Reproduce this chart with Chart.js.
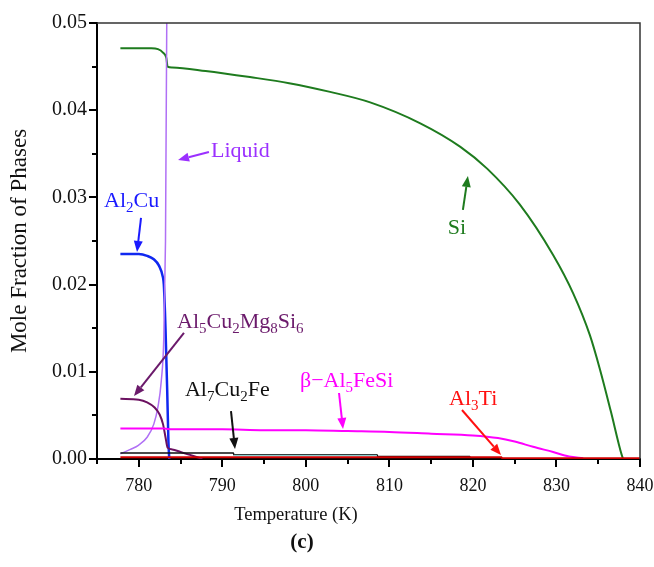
<!DOCTYPE html>
<html>
<head>
<meta charset="utf-8">
<script src="https://cdn.jsdelivr.net/npm/chart.js@4.4.0/dist/chart.umd.min.js"></script>
<style>
  html, body { margin: 0; padding: 0; background: #fff; }
  canvas { display: block; }
</style>
</head>
<body>
<canvas id="chart" width="654" height="567"></canvas>
<script>
// ---- data (temperature in K, mole fraction) ----
const siTemp = [777.8, 781.5, 782.3, 782.9, 783.3, 783.45, 784, 788, 793.3, 798, 802.9, 807.7, 813.7, 818.5, 821.7, 825.6, 829.6, 832, 834, 835.2, 836.5, 837.8, 837.95];
const siFrac = [0.0471, 0.0471, 0.0470, 0.0466, 0.0460, 0.0450, 0.0449, 0.0445, 0.0438, 0.0431, 0.0421, 0.0409, 0.0385, 0.0358, 0.0333, 0.0292, 0.0234, 0.0190, 0.0142, 0.0103, 0.0055, 0.0005, 0.0001];

const liqTemp = [777.8, 779, 780, 781, 781.8, 782.3, 782.7, 783.0, 783.2, 783.35, 783.45, 783.5, 840];
const liqFrac = [0.0006, 0.0011, 0.0016, 0.0025, 0.0040, 0.0060, 0.0090, 0.0140, 0.0250, 0.0500, 0.2, 1.0, 1.0];

const al2cuTemp = [777.8, 780, 781, 781.8, 782.4, 782.9, 783.0, 783.2, 783.4, 783.55, 783.65];
const al2cuFrac = [0.0235, 0.0235, 0.0233, 0.0229, 0.0222, 0.0208, 0.0200, 0.0150, 0.0080, 0.0020, 0];

const mgTemp = [777.8, 780, 781, 781.9, 782.5, 782.9, 783.2, 783.45, 784, 785, 786, 787, 787.6];
const mgFrac = [0.0069, 0.0068, 0.0065, 0.0059, 0.0051, 0.0040, 0.0025, 0.0013, 0.0011, 0.0008, 0.0005, 0.0002, 0];

const feSiTemp = [777.8, 783, 784, 790, 795, 800, 805, 810, 815, 820, 823, 825, 827.2, 829.6, 831.5, 833.2];
const feSiFrac = [0.0035, 0.0035, 0.0034, 0.0034, 0.0033, 0.0033, 0.0032, 0.0031, 0.0029, 0.0027, 0.0024, 0.0020, 0.0014, 0.0008, 0.0003, 0.0001];

const al7Temp = [777.8, 791.3, 791.4, 808.5, 808.6, 819.6, 819.7];
const al7Frac = [0.0007, 0.0007, 0.0005, 0.0005, 0.0003, 0.0003, 0.0001];

const otherTemp = [791.4, 808.5];
const otherFrac = [0.0004, 0.0004];

const al3tiTemp = [777.8, 823.4, 823.5, 840];
const al3tiFrac = [0.0002, 0.0002, 0.0001, 0.0001];

const xTicks = [780, 790, 800, 810, 820, 830, 840];
const yTicks = [0.00, 0.01, 0.02, 0.03, 0.04, 0.05];

// labels on the plot: text, text anchor, arrow tail, arrow head (data coords)
const notes = [
  { text: 'Liquid', color: '#9b30ff', at: [788.65, 0.03544], from: [788.4, 0.03521], to: [784.7, 0.03429] },
  { text: 'Al_2Cu', color: '#1a1aff', at: [775.84, 0.0297], from: [780.27, 0.02764], to: [779.79, 0.02374] },
  { text: 'Si', color: '#1e7b1e', at: [817.0, 0.0266], from: [818.8, 0.02856], to: [819.4, 0.03245] },
  { text: 'Al_5Cu_2Mg_8Si_6', color: '#6b1a6b', at: [784.58, 0.01583], from: [785.41, 0.01445], to: [779.43, 0.00722] },
  { text: 'Al_7Cu_2Fe', color: '#111111', at: [785.53, 0.00803], from: [791.04, 0.0055], to: [791.52, 0.00115] },
  { text: 'β−Al_5FeSi', color: '#ff00ff', at: [799.3, 0.00906], from: [803.97, 0.00757], to: [804.45, 0.00344] },
  { text: 'Al_3Ti', color: '#ff1010', at: [817.14, 0.0070], from: [818.69, 0.00562], to: [823.36, 0.00046] }
];

const serif = "'Liberation Serif', 'Times New Roman', serif";
const pts = (xs, ys) => xs.map((x, i) => ({ x, y: ys[i] }));

function series(label, xs, ys, color, width, smooth) {
  return {
    label, data: pts(xs, ys), borderColor: color, borderWidth: width,
    pointRadius: 0, fill: false,
    cubicInterpolationMode: smooth ? 'monotone' : 'default', tension: 0
  };
}

function drawRich(ctx, text, x, y, color) {
  // "_d" marks a subscript digit
  const parts = text.split(/(_\d)/).filter(s => s.length);
  let cx = x;
  ctx.fillStyle = color;
  ctx.textAlign = 'left';
  ctx.textBaseline = 'alphabetic';
  parts.forEach(p => {
    if (p[0] === '_') {
      ctx.font = '15px ' + serif;
      ctx.fillText(p.slice(1), cx, y + 5);
      cx += ctx.measureText(p.slice(1)).width;
    } else {
      ctx.font = '22px ' + serif;
      ctx.fillText(p, cx, y);
      cx += ctx.measureText(p).width;
    }
  });
}

function arrow(ctx, x1, y1, x2, y2, color) {
  const a = Math.atan2(y2 - y1, x2 - x1), L = 11, W = 4.5;
  const bx = x2 - L * Math.cos(a), by = y2 - L * Math.sin(a);
  ctx.strokeStyle = color; ctx.fillStyle = color; ctx.lineWidth = 2;
  ctx.beginPath(); ctx.moveTo(x1, y1); ctx.lineTo(bx, by); ctx.stroke();
  ctx.beginPath();
  ctx.moveTo(x2, y2);
  ctx.lineTo(bx + W * Math.sin(a), by - W * Math.cos(a));
  ctx.lineTo(bx - W * Math.sin(a), by + W * Math.cos(a));
  ctx.closePath(); ctx.fill();
}

const framePlugin = {
  id: 'frame',
  afterDraw(chart) {
    const { ctx, chartArea: a, scales: { x, y } } = chart;
    ctx.save();
    // top + right of the box
    ctx.strokeStyle = '#333'; ctx.lineWidth = 1.5;
    ctx.beginPath(); ctx.moveTo(a.left, a.top); ctx.lineTo(a.right, a.top); ctx.lineTo(a.right, a.bottom); ctx.stroke();
    // ticks, major longer than minor
    ctx.strokeStyle = '#000'; ctx.lineWidth = 2;
    x.ticks.forEach(t => {
      const px = Math.round(x.getPixelForValue(t.value));
      const major = xTicks.some(v => Math.abs(v - t.value) < 1e-6);
      ctx.beginPath(); ctx.moveTo(px, a.bottom); ctx.lineTo(px, a.bottom + (major ? 8 : 5)); ctx.stroke();
    });
    y.ticks.forEach(t => {
      const py = Math.round(y.getPixelForValue(t.value));
      const major = yTicks.some(v => Math.abs(v - t.value) < 1e-6);
      ctx.beginPath(); ctx.moveTo(a.left, py); ctx.lineTo(a.left - (major ? 8 : 5), py); ctx.stroke();
    });
    // annotations
    notes.forEach(n => {
      drawRich(ctx, n.text, x.getPixelForValue(n.at[0]), y.getPixelForValue(n.at[1]) + 7, n.color);
      arrow(ctx, x.getPixelForValue(n.from[0]), y.getPixelForValue(n.from[1]),
        x.getPixelForValue(n.to[0]), y.getPixelForValue(n.to[1]), n.color);
    });
    // x title and panel letter
    ctx.fillStyle = '#111'; ctx.textAlign = 'center'; ctx.textBaseline = 'middle';
    ctx.font = '18.5px ' + serif;
    ctx.fillText('Temperature (K)', 296, 515);
    ctx.font = 'bold 21px ' + serif;
    ctx.fillText('(c)', 302, 543);
    ctx.restore();
  }
};

new Chart(document.getElementById('chart'), {
  type: 'line',
  data: {
    datasets: [
      series('Al3Ti', al3tiTemp, al3tiFrac, '#d00000', 2, false),
      series('Other', otherTemp, otherFrac, '#8fd0d0', 1.5, false),
      series('Al7Cu2Fe', al7Temp, al7Frac, '#111111', 1.5, false),
      series('β-Al5FeSi', feSiTemp, feSiFrac, '#ff00ff', 2, true),
      series('Al5Cu2Mg8Si6', mgTemp, mgFrac, '#6b1060', 2, true),
      series('Liquid', liqTemp, liqFrac, '#b070f5', 1.5, true),
      series('Al2Cu', al2cuTemp, al2cuFrac, '#1028f0', 2.5, true),
      series('Si', siTemp, siFrac, '#1e7b1e', 2, true)
    ]
  },
  options: {
    responsive: false,
    devicePixelRatio: 1,
    animation: false,
    layout: { padding: { top: 23, right: 0, left: 0, bottom: 0 } },
    plugins: { legend: { display: false }, tooltip: { enabled: false } },
    scales: {
      x: {
        type: 'linear', min: 775, max: 840,
        afterFit: s => { s.height = 108; s.paddingRight = 14; s.paddingLeft = 0; },
        grid: { display: false, drawTicks: false },
        border: { display: true, color: '#000', width: 2 },
        ticks: {
          stepSize: 5, autoSkip: false, maxRotation: 0, padding: 16,
          color: '#111', font: { family: serif, size: 18 },
          callback: v => xTicks.some(t => Math.abs(t - v) < 1e-6) ? String(Math.round(v)) : ''
        }
      },
      y: {
        type: 'linear', min: 0, max: 0.05,
        afterFit: s => { s.width = 97; },
        grid: { display: false, drawTicks: false },
        border: { display: true, color: '#000', width: 2 },
        title: {
          display: true, text: 'Mole Fraction of Phases', color: '#111',
          font: { family: serif, size: 23 }, padding: { top: 6, bottom: 0 }
        },
        ticks: {
          stepSize: 0.005, autoSkip: false, padding: 10,
          color: '#111', font: { family: serif, size: 20 },
          callback: v => yTicks.some(t => Math.abs(t - v) < 1e-6) ? v.toFixed(2) : ''
        }
      }
    }
  },
  plugins: [framePlugin]
});
</script>
</body>
</html>
